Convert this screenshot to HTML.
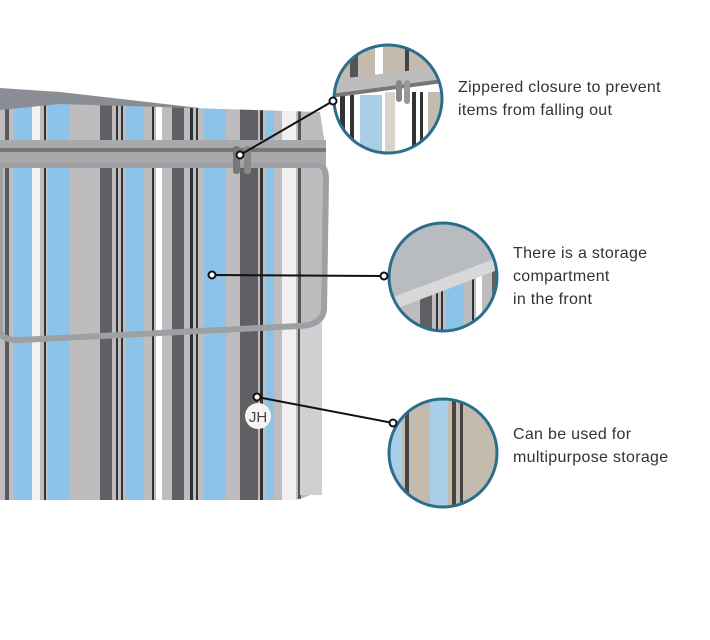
<!DOCTYPE html>
<html><head><meta charset="utf-8"><style>
body{margin:0;background:#fff;width:710px;height:640px;overflow:hidden;font-family:"Liberation Sans",sans-serif}
.t{position:absolute;font-size:16px;line-height:23px;color:#333;letter-spacing:0.3px}
</style></head><body>
<svg width="710" height="640" style="position:absolute;left:0;top:0">
<defs>
<pattern id="st" width="320" height="10" patternUnits="userSpaceOnUse">
<rect width="320" height="10" fill="#bdbdbf"/>
<rect x="5" width="4" height="10" fill="#5a5a5e"/>
<rect x="14" width="18" height="10" fill="#8cc3e8"/>
<rect x="32" width="8" height="10" fill="#f2f2f2"/>
<rect x="44" width="2" height="10" fill="#333"/>
<rect x="48" width="22" height="10" fill="#8cc3e8"/>
<rect x="100" width="12" height="10" fill="#606064"/>
<rect x="116" width="2" height="10" fill="#333"/>
<rect x="121" width="2" height="10" fill="#333"/>
<rect x="126" width="18" height="10" fill="#8cc3e8"/>
<rect x="152" width="2" height="10" fill="#333"/>
<rect x="156" width="6" height="10" fill="#fff"/>
<rect x="172" width="12" height="10" fill="#606064"/>
<rect x="190" width="3" height="10" fill="#2b2f3a"/>
<rect x="196" width="2" height="10" fill="#333"/>
<rect x="204" width="22" height="10" fill="#8cc3e8"/>
<rect x="240" width="18" height="10" fill="#606064"/>
<rect x="260" width="3" height="10" fill="#333"/>
<rect x="266" width="8" height="10" fill="#8cc3e8"/>
<rect x="282" width="14" height="10" fill="#f0f0f2"/>
<rect x="298" width="3" height="10" fill="#555"/>
</pattern>
<clipPath id="c1"><circle cx="388" cy="99" r="54"/></clipPath>
<clipPath id="c2"><circle cx="443" cy="277" r="54"/></clipPath>
<clipPath id="c3"><circle cx="443" cy="453" r="54"/></clipPath>
</defs>
<path d="M0 88 L60 92 L130 100 L200 108 L200 120 L0 112 Z" fill="#8a8d93"/>
<path d="M0 110 L60 104 L320 112 L325 145 L0 148 Z" fill="url(#st)"/>
<rect x="0" y="140" width="326" height="26" fill="#a9a9ab"/>
<rect x="0" y="148" width="326" height="4" fill="#777"/>
<path d="M0 320 L310 318 L310 495 Q300 500 290 500 L0 500 Z" fill="url(#st)"/>
<rect x="300" y="320" width="22" height="175" fill="#cfd0d2"/>
<path d="M0 165 L318 165 Q326 165 326 180 L324 310 Q322 325 300 326 L20 340 Q0 340 0 330 Z" fill="url(#st)" stroke="#9fa0a3" stroke-width="6"/>
<rect x="233" y="146" width="7" height="28" rx="3" fill="#777"/>
<rect x="244" y="146" width="7" height="28" rx="3" fill="#888"/>
<circle cx="258" cy="416" r="13" fill="#f4f4f4"/>
<text x="258" y="422" font-size="15" text-anchor="middle" fill="#444" font-family="Liberation Sans">JH</text>
<g clip-path="url(#c1)">
<rect x="330" y="40" width="120" height="120" fill="#c3bcae"/>
<rect x="350" y="40" width="8" height="120" fill="#555"/>
<rect x="375" y="40" width="8" height="120" fill="#fff"/>
<rect x="405" y="40" width="4" height="120" fill="#444"/>
<path d="M330 90 L450 70 L450 160 L330 160Z" fill="#fff"/>
<rect x="340" y="95" width="5" height="70" fill="#333"/>
<rect x="350" y="95" width="4" height="70" fill="#333"/>
<rect x="360" y="95" width="22" height="70" fill="#a9cfe8"/>
<rect x="385" y="92" width="10" height="70" fill="#d9d4c9"/>
<rect x="412" y="92" width="4" height="70" fill="#333"/>
<rect x="420" y="92" width="3" height="70" fill="#333"/>
<rect x="428" y="92" width="20" height="70" fill="#c3bcae"/>
<path d="M330 80 L450 66 L450 80 L330 96Z" fill="#bdbdbd"/>
<path d="M330 94 L450 78 L450 82 L330 98Z" fill="#777"/>
<rect x="396" y="80" width="6" height="22" rx="3" fill="#888"/>
<rect x="404" y="80" width="6" height="24" rx="3" fill="#999"/>
</g>
<circle cx="388" cy="99" r="54" fill="none" stroke="#2a6e8c" stroke-width="3"/>
<g clip-path="url(#c2)"><rect x="385" y="220" width="120" height="120" fill="#b8bcc0"/><path d="M385 300 L505 255 L505 340 L385 340Z" fill="url(#st)"/><path d="M385 300 L505 255 L505 267 L385 313Z" fill="#d8d8d8"/></g>
<circle cx="443" cy="277" r="54" fill="none" stroke="#2a6e8c" stroke-width="3"/>
<g clip-path="url(#c3)"><rect x="385" y="395" width="120" height="120" fill="#c3bcae"/><rect x="430" y="395" width="18" height="120" fill="#a9cfe8"/><rect x="452" y="395" width="4" height="120" fill="#444"/><rect x="460" y="395" width="3" height="120" fill="#444"/><rect x="405" y="395" width="4" height="120" fill="#444"/><rect x="390" y="395" width="12" height="120" fill="#a9cfe8"/></g>
<circle cx="443" cy="453" r="54" fill="none" stroke="#2a6e8c" stroke-width="3"/>
<g stroke="#111" stroke-width="2" fill="#fff">
<line x1="240" y1="155" x2="333" y2="101"/>
<line x1="212" y1="275" x2="384" y2="276"/>
<line x1="257" y1="397" x2="393" y2="423"/>
<circle cx="240" cy="155" r="3.5"/><circle cx="333" cy="101" r="3.5"/>
<circle cx="212" cy="275" r="3.5"/><circle cx="384" cy="276" r="3.5"/>
<circle cx="257" cy="397" r="3.5"/><circle cx="393" cy="423" r="3.5"/>
</g>
</svg>
<div class="t" style="left:458px;top:76px">Zippered closure to prevent<br>items from falling out</div>
<div class="t" style="left:513px;top:242px">There is a storage<br>compartment<br>in the front</div>
<div class="t" style="left:513px;top:423px">Can be used for<br>multipurpose storage</div>
</body></html>
